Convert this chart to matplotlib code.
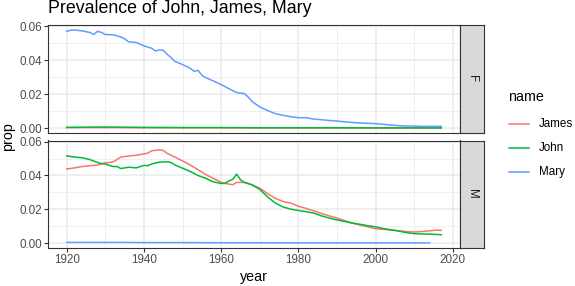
import matplotlib
matplotlib.use("Agg")
import matplotlib.pyplot as plt
from matplotlib.lines import Line2D

plt.rcParams['font.family'] = ['Liberation Sans', 'DejaVu Sans']

# ---------------- data ----------------
james_m_years = [1920, 1922, 1924, 1926, 1928, 1930, 1932, 1934, 1936, 1938, 1940, 1941, 1942, 1944, 1945,
                 1946, 1948, 1950, 1952, 1954, 1956, 1958, 1960, 1962, 1963, 1964, 1966, 1968, 1970,
                 1972, 1974, 1976, 1978, 1980, 1982, 1984, 1986, 1988, 1990, 1992, 1994, 1996, 1998,
                 2000, 2002, 2004, 2006, 2008, 2010, 2012, 2014, 2016, 2017]
james_m = [0.0438, 0.0445, 0.0453, 0.0458, 0.0462, 0.0475, 0.0480, 0.0509, 0.0515, 0.0520, 0.0528, 0.0532, 0.0546,
           0.0552, 0.0548, 0.0531, 0.0509, 0.0486, 0.0462, 0.0434, 0.0406, 0.0383, 0.0359, 0.0349,
           0.0345, 0.0359, 0.0359, 0.0345, 0.0325, 0.0293, 0.0265, 0.0246, 0.0237, 0.0218, 0.0205,
           0.0190, 0.0175, 0.0161, 0.0148, 0.0133, 0.0118, 0.0107, 0.0096, 0.0085, 0.0081, 0.0077,
           0.0073, 0.0068, 0.0066, 0.0068, 0.0073, 0.0077, 0.0075]

john_m_years = [1920, 1922, 1924, 1926, 1928, 1929, 1930, 1932, 1933, 1934, 1936, 1938, 1940, 1941, 1942,
                1944, 1946, 1947, 1948, 1950, 1952, 1954, 1956, 1958, 1960, 1961, 1962, 1963, 1964,
                1965, 1966, 1968, 1970, 1972, 1974, 1976, 1978, 1980, 1982, 1984, 1986, 1988, 1990,
                1992, 1994, 1996, 1998, 2000, 2002, 2004, 2006, 2008, 2010, 2012, 2014, 2016, 2017]
john_m = [0.0516, 0.0509, 0.0505, 0.0494, 0.0477, 0.0470, 0.0468, 0.0453, 0.0453, 0.0441, 0.0449, 0.0445,
          0.0460, 0.0458, 0.0468, 0.0479, 0.0481, 0.0477, 0.0462, 0.0443, 0.0424, 0.0400, 0.0383,
          0.0362, 0.0353, 0.0353, 0.0368, 0.0377, 0.0408, 0.0374, 0.0359, 0.0345, 0.0317, 0.0274,
          0.0237, 0.0214, 0.0201, 0.0193, 0.0186, 0.0177, 0.0161, 0.0148, 0.0137, 0.0128, 0.0118,
          0.0111, 0.0103, 0.0096, 0.0086, 0.0079, 0.0071, 0.0062, 0.0056, 0.0054, 0.0053, 0.0051, 0.0049]

mary_m_years = [1920, 1925, 1930, 1935, 1940, 1950, 1960, 1970, 1980, 1990, 2000, 2010, 2014]
mary_m = [0.0004, 0.0004, 0.0004, 0.0004, 0.0003, 0.0003, 0.0002, 0.0002, 0.0001, 0.0001, 0.0001, 0.0001, 0.0001]

mary_f_years = [1920, 1921, 1922, 1924, 1926, 1927, 1928, 1929, 1930, 1932, 1934, 1935, 1936, 1938, 1940,
                1942, 1943, 1944, 1945, 1946, 1947, 1948, 1950, 1952, 1953, 1954, 1955, 1956, 1958,
                1960, 1962, 1964, 1966, 1967, 1968, 1970, 1972, 1974, 1976, 1978, 1980, 1982, 1984,
                1986, 1988, 1990, 1992, 1994, 1996, 1998, 2000, 2002, 2004, 2006, 2008, 2010, 2012,
                2014, 2017]
mary_f = [0.0570, 0.0576, 0.0578, 0.0572, 0.0563, 0.0551, 0.0570, 0.0563, 0.0551, 0.0549, 0.0537, 0.0526,
          0.0508, 0.0504, 0.0484, 0.0470, 0.0454, 0.0460, 0.0458, 0.0435, 0.0415, 0.0393, 0.0374,
          0.0352, 0.0334, 0.0340, 0.0311, 0.0297, 0.0277, 0.0256, 0.0232, 0.0209, 0.0203, 0.0183,
          0.0157, 0.0124, 0.0104, 0.0085, 0.0075, 0.0067, 0.0061, 0.0061, 0.0053, 0.0049, 0.0045,
          0.0041, 0.0037, 0.0033, 0.0030, 0.0028, 0.0026, 0.0022, 0.0018, 0.0014, 0.0012, 0.0012,
          0.0010, 0.0010, 0.0010]

james_f_years = [1920, 1930, 1940, 1950, 1960, 1970, 1980, 1990, 2000, 2010, 2017]
james_f = [0.0003, 0.0003, 0.0002, 0.0002, 0.0002, 0.0001, 0.0001, 0.0001, 0.0001, 0.0001, 0.0001]

john_f_years = [1920, 1925, 1930, 1935, 1940, 1950, 1960, 1970, 1980, 1990, 2000, 2010, 2017]
john_f = [0.0004, 0.0005, 0.0006, 0.0005, 0.0004, 0.0003, 0.0003, 0.0002, 0.0002, 0.0002, 0.0001, 0.0001, 0.0001]

names = ["James", "John", "Mary"]
colors = {"James": "#F8766D", "John": "#00BA38", "Mary": "#619CFF"}
facets = ["F", "M"]
series = {
    "F": {"James": (james_f_years, james_f), "John": (john_f_years, john_f), "Mary": (mary_f_years, mary_f)},
    "M": {"James": (james_m_years, james_m), "John": (john_m_years, john_m), "Mary": (mary_m_years, mary_m)},
}
x_ticks = [1920, 1940, 1960, 1980, 2000, 2020]
x_minor = [1930, 1950, 1970, 1990, 2010]
y_ticks = [0.00, 0.02, 0.04, 0.06]
y_minor = [0.01, 0.03, 0.05]

# ---------------- layout ----------------
W, H = 575, 286
fig = plt.figure(figsize=(W / 100, H / 100), dpi=100)

def rect(x0, y0, x1, y1):
    return [x0 / W, 1 - y1 / H, (x1 - x0) / W, (y1 - y0) / H]

panel_x0, panel_x1 = 48, 460
strip_x1 = 484
panels_y = [(25, 133), (140.5, 248)]

ymin, ymax = -0.0029, 0.0607
xmin, xmax = 1915.15, 2021.85
grid_c = "#EBEBEB"
border_c = "#333333"
lw_line = 1.1

axes = []
for i, f in enumerate(facets):
    y0, y1 = panels_y[i]
    ax = fig.add_axes(rect(panel_x0, y0, panel_x1, y1))
    ax.set_xlim(xmin, xmax)
    ax.set_ylim(ymin, ymax)
    for v in x_minor:
        ax.axvline(v, color=grid_c, lw=0.55, zorder=0)
    for v in y_minor:
        ax.axhline(v, color=grid_c, lw=0.55, zorder=0)
    for v in x_ticks:
        ax.axvline(v, color=grid_c, lw=1.1, zorder=0)
    for v in y_ticks:
        ax.axhline(v, color=grid_c, lw=1.1, zorder=0)
    for n in names:
        xs, ys = series[f][n]
        ax.plot(xs, ys, color=colors[n], lw=lw_line, zorder=2)
    ax.set_yticks(y_ticks)
    ax.set_yticklabels(["0.00", "0.02", "0.04", "0.06"])
    ax.set_xticks(x_ticks)
    if i == 0:
        ax.set_xticklabels([])
        ax.tick_params(axis='x', length=0)
    else:
        ax.set_xticklabels([str(v) for v in x_ticks])
        ax.tick_params(axis='x', length=2.8, width=0.8, color=border_c, labelsize=8.4,
                       labelcolor="#4D4D4D", pad=1.5)
    ax.tick_params(axis='y', length=2.8, width=0.8, color=border_c, labelsize=8.4,
                   labelcolor="#4D4D4D", pad=1.5)
    for s in ax.spines.values():
        s.set_color(border_c)
        s.set_linewidth(0.8)
    axes.append(ax)

    sax = fig.add_axes(rect(panel_x1, y0, strip_x1, y1))
    sax.set_facecolor("#D9D9D9")
    sax.set_xticks([])
    sax.set_yticks([])
    for s in sax.spines.values():
        s.set_color(border_c)
        s.set_linewidth(0.8)
    sax.text(0.5, 0.5, f, rotation=-90, ha="center", va="center", fontsize=8.4,
             color="#1A1A1A", transform=sax.transAxes)

# title & axis labels
fig.text(panel_x0 / W, 1 - 13.3 / H, "Prevalence of John, James, Mary", fontsize=12.8,
         ha="left", va="baseline", color="black")
fig.text(254 / W, 1 - 277 / H, "year", fontsize=10.3, ha="center", va="center")
fig.text(8 / W, 1 - 136.5 / H, "prop", fontsize=10.3, ha="center", va="center", rotation=90)

# legend
fig.text(507.7 / W, 1 - 97 / H, "name", fontsize=10.3, ha="left", va="center")
leg_y = {"James": 124, "John": 148, "Mary": 171.5}
for n in names:
    yy = 1 - leg_y[n] / H
    fig.add_artist(Line2D([509.3 / W, 529 / W], [yy, yy], color=colors[n], lw=lw_line,
                          transform=fig.transFigure))
    fig.text(538.7 / W, yy, n, fontsize=8.4, ha="left", va="center", color="black")

fig.savefig("out.png", dpi=100)
